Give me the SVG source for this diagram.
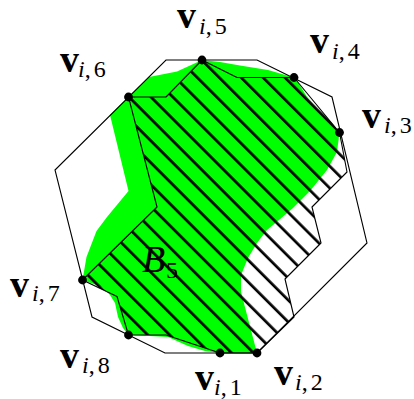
<svg xmlns="http://www.w3.org/2000/svg" width="414" height="399" viewBox="0 0 414 399">
<style>
.oct{fill:none;stroke:#000;stroke-width:1.1}
.blob{fill:#00ff00;stroke:none}
.hat{fill:url(#hatch);stroke:#000;stroke-width:1.1;stroke-linejoin:round}
.dot{fill:#000}
.v{font-family:"Liberation Serif",serif;font-weight:bold;font-size:38px;fill:#000}
.s{font-family:"Liberation Serif",serif;font-size:24px;fill:#000}
.it{font-style:italic}
</style>
<defs>
<pattern id="hatch" patternUnits="userSpaceOnUse" width="15.5" height="20" patternTransform="rotate(-45)">
<line x1="7.1" y1="-5" x2="7.1" y2="25" stroke="#000" stroke-width="2.7"/>
</pattern>
</defs>
<rect width="414" height="399" fill="#fff"/>
<g id="regions">
<polygon id="B5" class="blob" points="128.5,97 149,77 177,71.5 202,60 220,62 240,65.5 268,70 294,77.5 301,87 307,97 318,110 333,124 339.5,132.5 337,152 327,170 310,191 293,208 279,220 267,230 257,243 248,258 241,275 241,292 257,353 220,353 205,351 188,346 168,337 150,336 128.5,335 123,328 118,317 115,303 110,295 102,287 82.5,280 86.5,257 96.5,231 107,217 128.5,191 110,115"/>
<polygon id="hatched" class="hat" points="128.5,97 166,97 202,60 237,77.5 294,77.5 339.5,132.5 347,172 312,207 321,243 285,279 294,317 257,353 220,353 166,335 128.5,335 117,296.5 82.5,280 157,207"/>
<polygon id="octagon" class="oct" points="166,60 257,60 332,97 367,243 257,353 165,353 92,317 55,170"/>
</g>
<g id="vertices">
<g id="v1"><circle class="dot" cx="220" cy="353" r="4.4"/><text class="v" x="195" y="390">v</text><text class="s" x="214" y="395"><tspan class="it">i</tspan>,<tspan dx="3">1</tspan></text></g>
<g id="v2"><circle class="dot" cx="257" cy="353" r="4.4"/><text class="v" x="274" y="385">v</text><text class="s" x="295" y="390"><tspan class="it">i</tspan>,<tspan dx="3">2</tspan></text></g>
<g id="v3"><circle class="dot" cx="339.5" cy="132.5" r="4.4"/><text class="v" x="362" y="128">v</text><text class="s" x="384" y="133"><tspan class="it">i</tspan>,<tspan dx="3">3</tspan></text></g>
<g id="v4"><circle class="dot" cx="294" cy="77.5" r="4.4"/><text class="v" x="310" y="53">v</text><text class="s" x="332" y="59"><tspan class="it">i</tspan>,<tspan dx="3">4</tspan></text></g>
<g id="v5"><circle class="dot" cx="202" cy="60" r="4.4"/><text class="v" x="177" y="28">v</text><text class="s" x="199" y="34"><tspan class="it">i</tspan>,<tspan dx="3">5</tspan></text></g>
<g id="v6"><circle class="dot" cx="128.5" cy="97" r="4.4"/><text class="v" x="60" y="72">v</text><text class="s" x="78" y="77"><tspan class="it">i</tspan>,<tspan dx="3">6</tspan></text></g>
<g id="v7"><circle class="dot" cx="82.5" cy="280" r="4.4"/><text class="v" x="10" y="297">v</text><text class="s" x="32" y="301"><tspan class="it">i</tspan>,<tspan dx="3">7</tspan></text></g>
<g id="v8"><circle class="dot" cx="128.5" cy="335" r="4.4"/><text class="v" x="60" y="368">v</text><text class="s" x="82" y="373"><tspan class="it">i</tspan>,<tspan dx="3">8</tspan></text></g>
</g>
<g id="label-B5"><text x="142" y="272" font-family="Liberation Serif,serif" font-style="italic" font-size="38">B</text><text class="s" x="166" y="278">5</text></g>
</svg>
